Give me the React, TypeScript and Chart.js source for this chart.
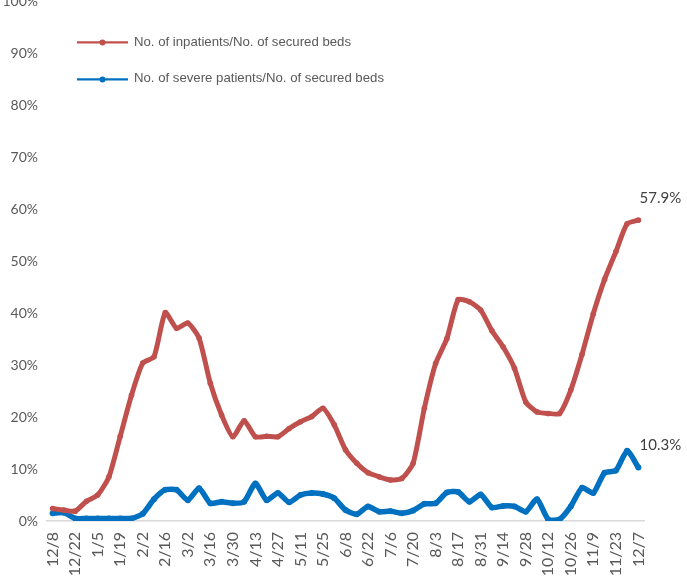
import React, { useEffect, useRef } from "react";
import { Chart, registerables } from "chart.js";

Chart.register(...registerables);

const weeks = [
  "12/8", "12/15", "12/22", "12/29", "1/5", "1/12", "1/19", "1/26", "2/2", "2/9",
  "2/16", "2/23", "3/2", "3/9", "3/16", "3/23", "3/30", "4/6", "4/13", "4/20",
  "4/27", "5/4", "5/11", "5/18", "5/25", "6/1", "6/8", "6/15", "6/22", "6/29",
  "7/6", "7/13", "7/20", "7/27", "8/3", "8/10", "8/17", "8/24", "8/31", "9/7",
  "9/14", "9/21", "9/28", "10/5", "10/12", "10/19", "10/26", "11/2", "11/9", "11/16",
  "11/23", "11/30", "12/7",
];

const inpatientRatio = [
  2.4, 2.1, 1.9, 3.8, 5.0, 8.5, 16.3, 24.2, 30.4, 31.6,
  40.1, 37.1, 38.1, 35.2, 26.5, 20.4, 16.2, 19.3, 16.2, 16.3,
  16.2, 17.8, 19.1, 20.1, 21.7, 18.5, 13.7, 11.1, 9.3, 8.5,
  7.9, 8.2, 11.1, 21.7, 30.3, 35.1, 42.6, 42.2, 40.6, 36.6,
  33.5, 29.4, 22.9, 21.0, 20.7, 20.7, 25.2, 32.1, 39.9, 46.5,
  51.8, 57.2, 57.9,
];

const severeRatio = [
  1.5, 1.6, 0.5, 0.5, 0.5, 0.5, 0.5, 0.5, 1.4, 4.2,
  6.0, 6.0, 4.0, 6.3, 3.4, 3.7, 3.4, 3.7, 7.2, 4.0,
  5.4, 3.6, 5.0, 5.4, 5.2, 4.4, 2.1, 1.3, 2.8, 1.8,
  1.9, 1.5, 2.0, 3.3, 3.4, 5.5, 5.6, 3.7, 5.1, 2.6,
  2.9, 2.8, 1.8, 4.2, 0.3, 0.3, 2.8, 6.4, 5.4, 9.3,
  9.7, 13.5, 10.3,
];

const seriesNames = [
  "No. of inpatients/No. of secured beds",
  "No. of severe patients/No. of secured beds",
];
const seriesColors = ["#C0504D", "#0070C0"];
const yTicks = [0, 10, 20, 30, 40, 50, 60, 70, 80, 90, 100];

const tickFont = "Lato";

const overlayPlugin = {
  id: "overlay",
  afterDatasetsDraw(chart: any) {
    const { ctx, chartArea } = chart;
    ctx.save();
    // legend
    seriesNames.forEach((name, i) => {
      const y = chartArea.top + 41 + i * 37;
      const x0 = chartArea.left + 30;
      const x1 = chartArea.left + 81;
      ctx.strokeStyle = seriesColors[i];
      ctx.lineWidth = 2.2;
      ctx.beginPath();
      ctx.moveTo(x0, y);
      ctx.lineTo(x1, y);
      ctx.stroke();
      ctx.fillStyle = seriesColors[i];
      ctx.beginPath();
      ctx.arc((x0 + x1) / 2, y, 3, 0, Math.PI * 2);
      ctx.fill();
      ctx.fillStyle = "#595959";
      ctx.font = "13.2px 'Liberation Sans', Arial, sans-serif";
      ctx.textAlign = "left";
      ctx.textBaseline = "middle";
      ctx.fillText(name, x1 + 6, y - (i === 0 ? 0 : 1.5));
    });
    // end labels
    chart.data.datasets.forEach((ds: any, i: number) => {
      const meta = chart.getDatasetMeta(i);
      const last = meta.data[meta.data.length - 1];
      const v = ds.data[ds.data.length - 1];
      ctx.fillStyle = "#404040";
      ctx.font = `15px ${tickFont}, sans-serif`;
      ctx.textAlign = "center";
      ctx.textBaseline = "middle";
      ctx.fillText(v.toFixed(1) + "%", last.x + 22, last.y - 22);
    });
    ctx.restore();
  },
};

export default function App() {
  const ref = useRef<HTMLCanvasElement | null>(null);
  useEffect(() => {
    if (!ref.current) return;
    const chart = new Chart(ref.current, {
      type: "line",
      data: {
        labels: weeks,
        datasets: [
          {
            label: seriesNames[0],
            data: inpatientRatio,
            borderColor: seriesColors[0],
            backgroundColor: seriesColors[0],
            borderWidth: 5,
            pointRadius: 2.8,
            pointBorderWidth: 0,
            pointBackgroundColor: seriesColors[0],
            tension: 0.2,
          },
          {
            label: seriesNames[1],
            data: severeRatio,
            borderColor: seriesColors[1],
            backgroundColor: seriesColors[1],
            borderWidth: 5.5,
            pointRadius: 3,
            pointBorderWidth: 0,
            pointBackgroundColor: seriesColors[1],
            tension: 0.2,
          },
        ],
      },
      options: {
        animation: false,
        responsive: true,
        maintainAspectRatio: false,
        layout: { padding: { top: 11, right: 43, left: 0, bottom: 0 } },
        plugins: {
          legend: { display: false },
          tooltip: { enabled: false },
        },
        scales: {
          x: {
            offset: true,
            grid: { display: false, drawTicks: false },
            border: { display: true, color: "#D9D9D9", width: 1.5 },
            afterFit: (scale: any) => {
              scale.height = 63;
            },
            ticks: {
              autoSkip: false,
              minRotation: 90,
              maxRotation: 90,
              padding: 11,
              color: "#595959",
              font: { family: tickFont, size: 16 },
              callback: (_v: any, i: number) => (i % 2 === 0 ? weeks[i] : ""),
            },
          },
          y: {
            min: 0,
            max: 100,
            afterBuildTicks: (scale: any) => {
              scale.ticks = yTicks.map((v) => ({ value: v }));
            },
            grid: { display: false, drawTicks: false },
            border: { display: false },
            afterFit: (scale: any) => {
              scale.width = 47;
            },
            ticks: {
              padding: 9,
              color: "#595959",
              font: { family: tickFont, size: 14 },
              callback: (v: any) => v + "%",
            },
          },
        },
      },
      plugins: [overlayPlugin],
    });
    return () => chart.destroy();
  }, []);
  return (
    <div
      style={{
        position: "fixed",
        left: 0,
        top: -16,
        width: 687,
        height: 600,
        background: "#fff",
      }}
    >
      <canvas ref={ref} />
    </div>
  );
}
